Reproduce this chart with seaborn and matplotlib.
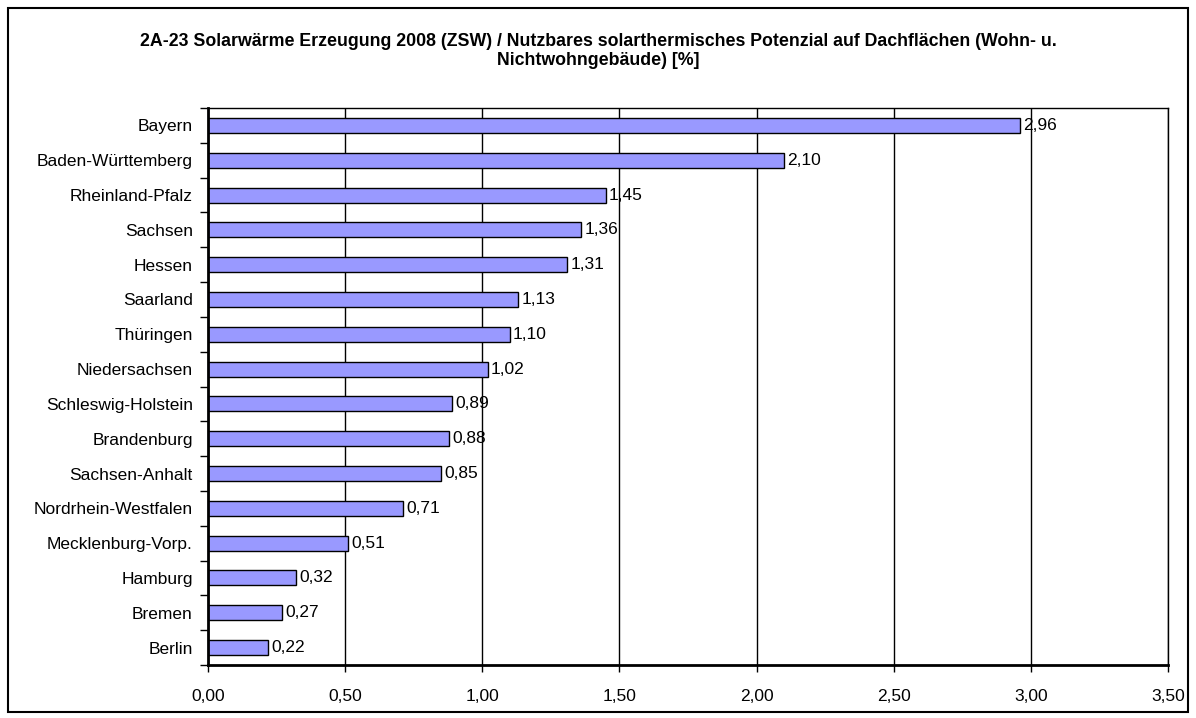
import numpy as np
import pandas as pd
import matplotlib
matplotlib.use("Agg")
import matplotlib.pyplot as plt
import seaborn as sns
from matplotlib.patches import Rectangle
from matplotlib.ticker import FixedLocator, FuncFormatter

states = ["Bayern", "Baden-Württemberg", "Rheinland-Pfalz", "Sachsen", "Hessen",
          "Saarland", "Thüringen", "Niedersachsen", "Schleswig-Holstein", "Brandenburg",
          "Sachsen-Anhalt", "Nordrhein-Westfalen", "Mecklenburg-Vorp.", "Hamburg",
          "Bremen", "Berlin"]
values = [2.96, 2.10, 1.45, 1.36, 1.31, 1.13, 1.10, 1.02, 0.89, 0.88,
          0.85, 0.71, 0.51, 0.32, 0.27, 0.22]
x_ticks = [0.0, 0.5, 1.0, 1.5, 2.0, 2.5, 3.0, 3.5]
title = ("2A-23 Solarwärme Erzeugung 2008 (ZSW) / Nutzbares solarthermisches Potenzial auf Dachflächen (Wohn- u.\n"
         "Nichtwohngebäude) [%]")

sns.set_theme(style="white")
plt.rcParams['font.family'] = ['Liberation Sans', 'DejaVu Sans']
plt.rcParams['text.color'] = 'black'
plt.rcParams['xtick.labelcolor'] = 'black'
plt.rcParams['ytick.labelcolor'] = 'black'

df = pd.DataFrame({"state": states, "value": values})

fig = plt.figure(figsize=(11.96, 7.18), dpi=100)
ax = fig.add_axes([208/1196, 1 - 665/718, (1168-208)/1196, (665-108)/718])

# vertical gridlines behind bars
for t in x_ticks:
    ax.axvline(t, color="black", linewidth=1, zorder=0)

sns.barplot(data=df, x="value", y="state", orient="h", color="#9999FF",
            edgecolor="black", linewidth=1, width=0.43, saturation=1, ax=ax, zorder=2)

for i, v in enumerate(values):
    ax.text(v + 0.012, i, f"{v:.2f}".replace(".", ","), va="center", ha="left",
            fontsize=12.5, color="black", zorder=3)

ax.set_xlim(0, 3.5)
ax.set_ylim(len(states) - 0.5, -0.5)
ax.set_xticks(x_ticks)
ax.xaxis.set_major_formatter(FuncFormatter(lambda v, p: f"{v:.2f}".replace(".", ",")))
ax.yaxis.set_minor_locator(FixedLocator(np.arange(-0.5, len(states), 1.0)))
ax.tick_params(axis="y", which="major", length=0, pad=11, labelsize=12.5, labelcolor="black")
ax.tick_params(axis="y", which="minor", left=True, length=6, width=1, color="black")
ax.tick_params(axis="x", which="major", bottom=True, length=5, width=1, color="black",
               pad=12, labelsize=12.5, labelcolor="black")
ax.set_xlabel("")
ax.set_ylabel("")

for side in ["left", "bottom"]:
    ax.spines[side].set_color("black")
    ax.spines[side].set_linewidth(2)
for side in ["top", "right"]:
    ax.spines[side].set_color("black")
    ax.spines[side].set_linewidth(1)

fig.text(0.5, 1 - 51/718, title, ha="center", va="center", fontsize=12.8,
         fontweight="bold", linespacing=1.15, color="black")

fig.patches.append(Rectangle((8/1196, 1 - 712/718), 1180/1196, 704/718,
                             transform=fig.transFigure, fill=False,
                             edgecolor="black", linewidth=1.5))

fig.savefig("out.png", dpi=100)
